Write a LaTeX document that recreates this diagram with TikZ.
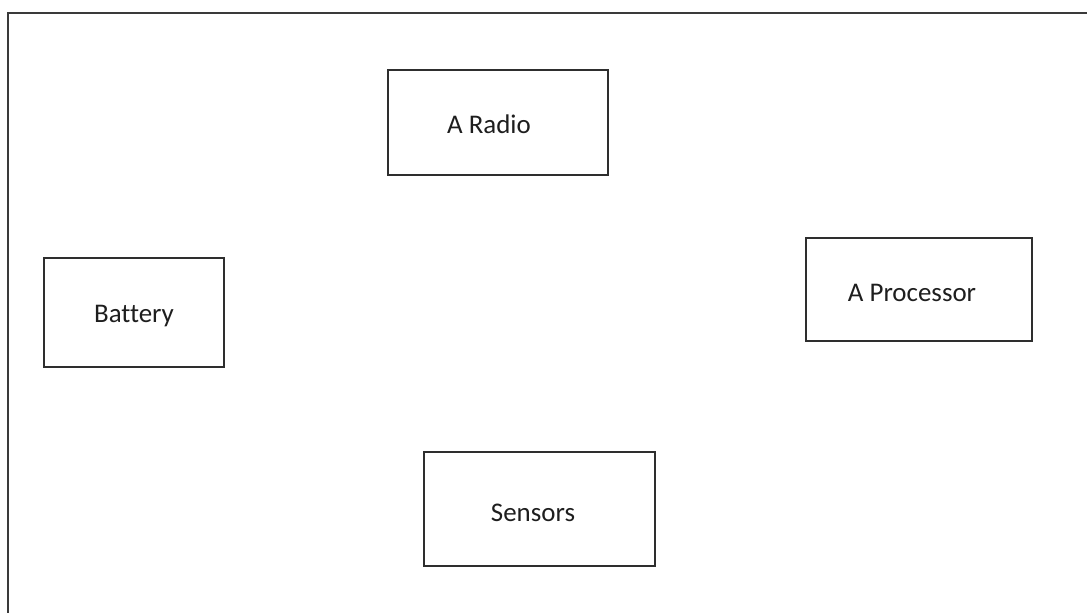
\documentclass[tikz,border=0pt]{standalone}
\usepackage{fontspec}
\setmainfont{Carlito}[Ligatures=NoCommon]
\usepackage{xcolor}
\usepackage{tikz}
\usetikzlibrary{positioning}

\definecolor{frameclr}{HTML}{3A3A3A}
\definecolor{boxclr}{HTML}{2E2E2E}
\definecolor{txtclr}{HTML}{1E1E1E}

\begin{document}
\begin{tikzpicture}[
x=0.75pt, y=-0.75pt,
part/.style={rectangle, draw=boxclr, line width=1.1pt, inner sep=0pt},
partname/.style={inner sep=0pt, text=txtclr, font=\fontsize{20.2}{24}\selectfont}
]
\useasboundingbox (0,0) rectangle (1087,612);

% outer frame (open at right and bottom)
\coordinate (fbl) at (8,613);
\coordinate (ftl) at (8,13);
\coordinate (ftr) at (1088,13);
\draw[frameclr, line width=1.5pt] (fbl) -- (ftl) -- (ftr);

\node[part, minimum width=165pt, minimum height=78.75pt] (radio) at (498,122.5) {};
\node[partname] (radiotxt) at (489,124) {A Radio};

\node[part, minimum width=135pt, minimum height=81.75pt] (battery) at (134,312.5) {};
\node[partname] (batterytxt) at (134,316) {Battery};

\node[part, minimum width=169.5pt, minimum height=77.25pt] (processor) at (919,289.5) {};
\node[partname] (processortxt) at (912,293) {A Processor};

\node[part, minimum width=173.25pt, minimum height=85.5pt] (sensors) at (539.5,509) {};
\node[partname] (sensorstxt) at (533,513) {Sensors};

\end{tikzpicture}
\end{document}
